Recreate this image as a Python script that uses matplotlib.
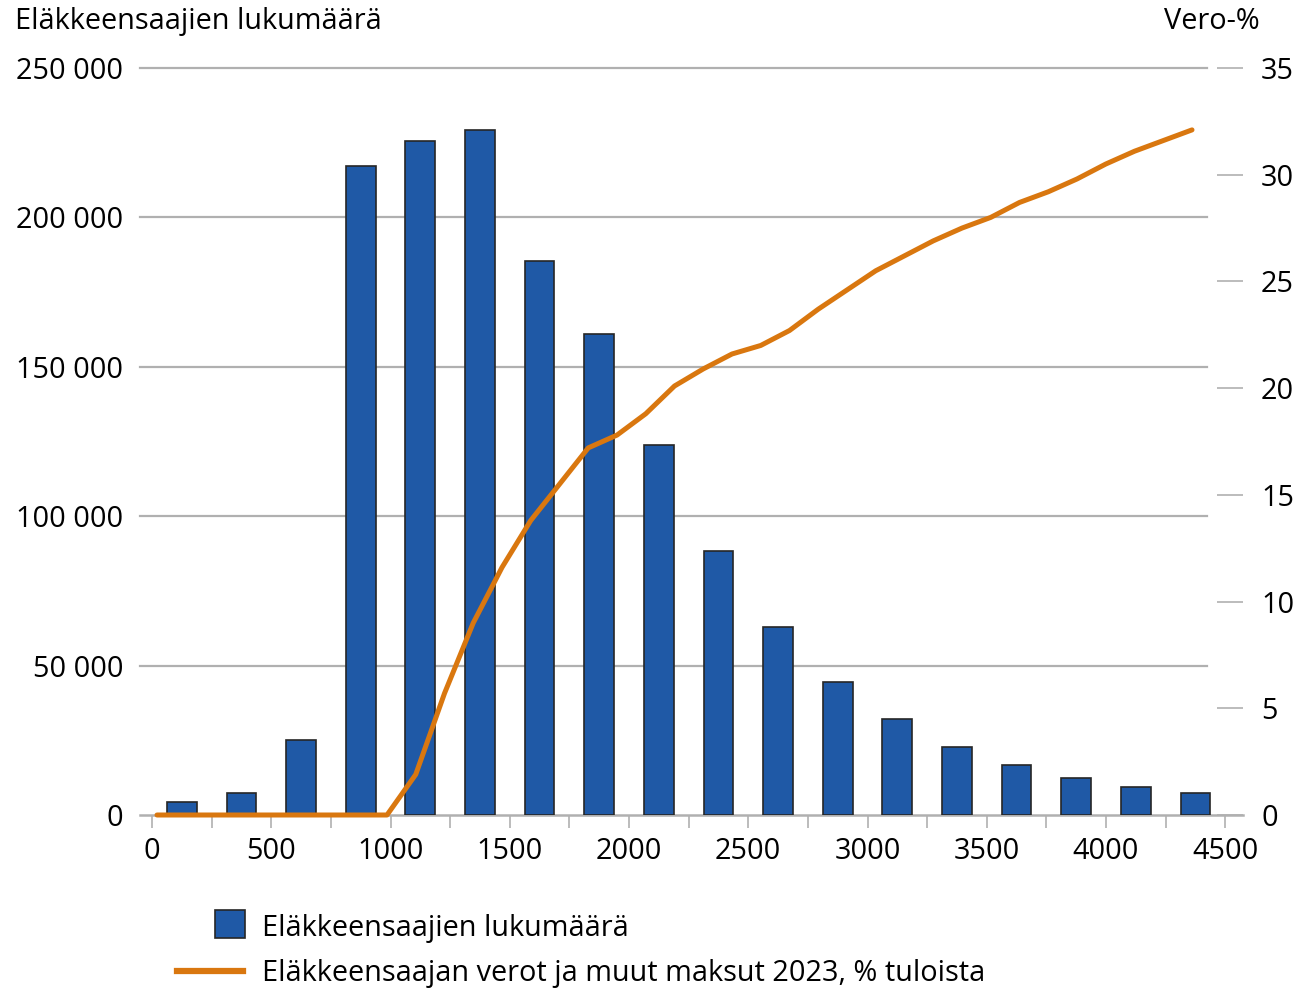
import matplotlib
matplotlib.use("Agg")
import matplotlib.pyplot as plt
from matplotlib.patches import Rectangle
from matplotlib.lines import Line2D

plt.rcParams['font.family'] = ['Open Sans', 'DejaVu Sans']

# ---- data ----
bin_centers = [125, 375, 625, 875, 1125, 1375, 1625, 1875, 2125, 2375,
               2625, 2875, 3125, 3375, 3625, 3875, 4125, 4375]
pensioners = [4400, 7500, 25100, 217200, 225600, 229300, 185400, 160900, 123800,
              88400, 62900, 44500, 32100, 22900, 16700, 12500, 9400, 7500]
income_points = [0, 125, 250, 375, 500, 625, 750, 875, 1000, 1125, 1250, 1375,
                 1500, 1625, 1750, 1875, 2000, 2125, 2250, 2375, 2500, 2625,
                 2750, 2875, 3000, 3125, 3250, 3375, 3500, 3625, 3750, 3875,
                 4000, 4125, 4250, 4375, 4500]
tax_pct = [0, 0, 0, 0, 0, 0, 0, 0, 0, 1.9, 5.7, 9.0, 11.6, 13.8, 15.5, 17.2,
           17.8, 18.8, 20.1, 20.9, 21.6, 22.0, 22.7, 23.7, 24.6, 25.5, 26.2,
           26.9, 27.5, 28.0, 28.7, 29.2, 29.8, 30.5, 31.1, 31.6, 32.1]
left_ticks = [0, 50000, 100000, 150000, 200000, 250000]
left_labels = ['0', '50 000', '100 000', '150 000', '200 000', '250 000']
right_ticks = [0, 5, 10, 15, 20, 25, 30, 35]
x_ticks = list(range(0, 4501, 250))
x_labels = [str(t) if t % 500 == 0 else '' for t in x_ticks]

left_title = 'Eläkkeensaajien lukumäärä'
right_title = 'Vero-%'
bar_label = 'Eläkkeensaajien lukumäärä'
line_label = 'Eläkkeensaajan verot ja muut maksut 2023, % tuloista'

# ---- styling ----
W, H = 1299, 988
BLUE = '#1f59a6'
ORANGE = '#d9770f'
GRID = '#b0b0b0'
FS = 20.8

fig = plt.figure(figsize=(W / 100, H / 100), dpi=100)

def fx(px):
    return px / W

def fy(py):
    return 1 - py / H

ax_l, ax_r, ax_t, ax_b = 140, 1243, 68, 815
rect = [fx(ax_l), fy(ax_b), fx(ax_r - ax_l), (ax_b - ax_t) / H]
ax = fig.add_axes(rect)

# primary x mapping (px per unit, pixel of 0)
scale = 0.2385
x0 = 152.0
ax.set_xlim((ax_l - x0) / scale, (ax_r - x0) / scale)
ax.set_ylim(0, 250000)

grid_frac = (1207 - ax_l) / (ax_r - ax_l)
for t in left_ticks[1:]:
    ax.axhline(t, xmin=0, xmax=grid_frac, color=GRID, lw=1.6, zorder=1, clip_on=False)

ax.bar(bin_centers, pensioners, width=125, color=BLUE, edgecolor='#262626',
       linewidth=1.2, zorder=3)

for s in ['top', 'right', 'left']:
    ax.spines[s].set_visible(False)
ax.spines['bottom'].set_color(GRID)
ax.spines['bottom'].set_linewidth(1.8)
ax.spines['bottom'].set_zorder(2)

ax.set_yticks(left_ticks)
ax.set_yticklabels(left_labels, fontsize=FS)
ax.tick_params(axis='y', length=0, pad=12)
ax.set_xticks(x_ticks)
ax.set_xticklabels(x_labels, fontsize=FS)
ax.tick_params(axis='x', length=9, width=1.2, color=GRID, pad=6.5)

# right axis
ax2 = ax.twinx()
ax2.set_ylim(0, 35)
ax2.set_yticks(right_ticks)
ax2.set_yticklabels([str(t) for t in right_ticks], fontsize=FS)
ax2.tick_params(axis='y', direction='in', length=18.5, width=1.2, color=GRID, pad=13)
for s in ax2.spines.values():
    s.set_visible(False)

# line axes (own horizontal mapping)
ax3 = ax2.twiny()
lscale = (1192 - 157) / 4500
ax3.set_xlim((ax_l - 157) / lscale, (ax_r - 157) / lscale)
ax3.set_xticks([])
for s in ax3.spines.values():
    s.set_visible(False)
ax3.plot(income_points, tax_pct, color=ORANGE, lw=3.6, solid_capstyle='round',
         solid_joinstyle='round', zorder=5, clip_on=False)

# titles
fig.text(fx(15), fy(29), left_title, fontsize=FS, ha='left', va='baseline')
fig.text(fx(1260), fy(29), right_title, fontsize=FS, ha='right', va='baseline')

# legend
fig.add_artist(Rectangle((fx(215), fy(938)), fx(30), 28 / H, facecolor=BLUE,
                         edgecolor='#262626', linewidth=1.2, transform=fig.transFigure))
fig.add_artist(Line2D([fx(177), fx(243)], [fy(971), fy(971)], color=ORANGE, lw=4.5,
                      transform=fig.transFigure))
fig.text(fx(262), fy(936), bar_label, fontsize=FS, ha='left', va='baseline')
fig.text(fx(262), fy(981), line_label, fontsize=FS, ha='left', va='baseline')

fig.savefig('out.png', dpi=100)
